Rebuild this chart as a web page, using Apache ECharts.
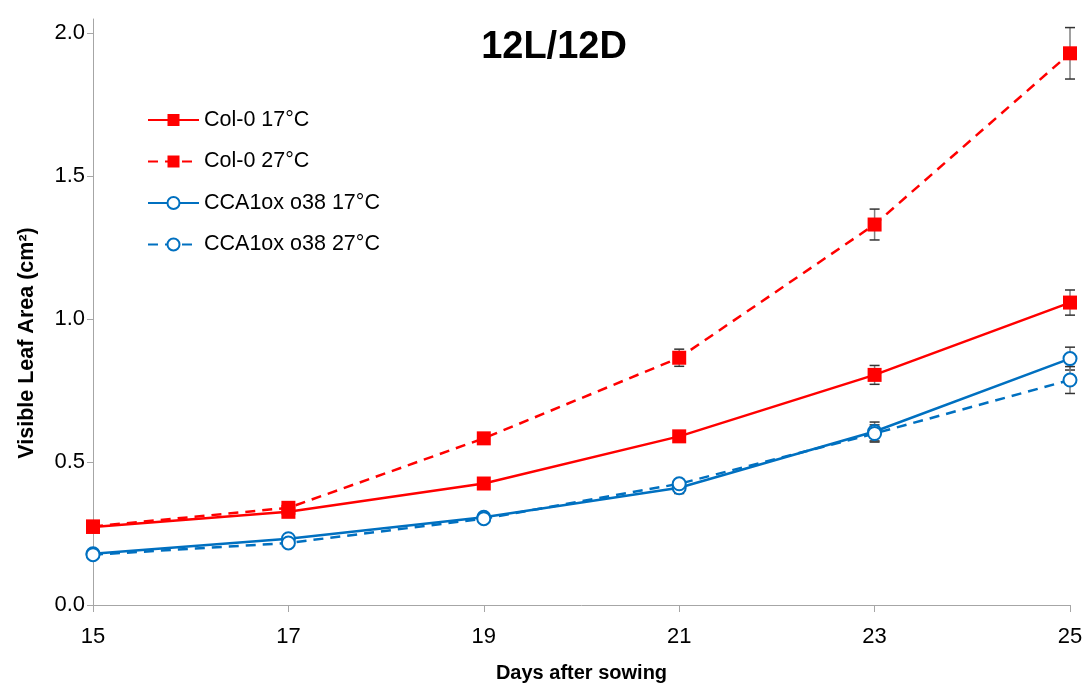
<!DOCTYPE html>
<html>
<head>
<meta charset="utf-8">
<script src="https://cdn.jsdelivr.net/npm/echarts@6/dist/echarts.min.js"></script>
<style>html,body{margin:0;padding:0;background:#fff}#c{width:1085px;height:684px}</style>
</head>
<body>
<div id="c"></div>
<script>
const days = [15, 17, 19, 21, 23, 25];
const yTicks = [0, 0.5, 1.0, 1.5, 2.0];
const seriesNames = ['Col-0 17°C', 'Col-0 27°C', 'CCA1ox o38 17°C', 'CCA1ox o38 27°C'];
const col17 = [0.273, 0.326, 0.425, 0.590, 0.805, 1.058];
const col27 = [0.275, 0.340, 0.583, 0.865, 1.331, 1.930];
const cca17 = [0.179, 0.232, 0.307, 0.410, 0.607, 0.862];
const cca27 = [0.176, 0.217, 0.302, 0.424, 0.600, 0.787];
const col17Err = [0.010, 0.010, 0.010, 0.015, 0.033, 0.044];
const col27Err = [0.010, 0.015, 0.015, 0.030, 0.054, 0.090];
const cca17Err = [0.010, 0.010, 0.010, 0.020, 0.033, 0.040];
const cca27Err = [0.010, 0.010, 0.010, 0.015, 0.030, 0.047];

const RED = '#ff0000', BLUE = '#0070c0';
const font = '"Liberation Sans", Arial, sans-serif';

function pts(vals) { return days.map((d, i) => [d, vals[i]]); }
function errData(vals, errs) { return days.map((d, i) => [d, vals[i] - errs[i], vals[i] + errs[i]]); }

function errSeries(vals, errs) {
  return {
    type: 'custom',
    silent: true,
    z: 1,
    data: errData(vals, errs),
    renderItem: function (params, api) {
      const x = api.value(0);
      const lo = api.coord([x, api.value(1)]);
      const hi = api.coord([x, api.value(2)]);
      const w = 5;
      return {
        type: 'group',
        children: [
          { type: 'line', shape: { x1: lo[0], y1: lo[1], x2: hi[0], y2: hi[1] }, style: { stroke: '#808080', lineWidth: 1.5 } },
          { type: 'line', shape: { x1: lo[0] - w, y1: lo[1], x2: lo[0] + w, y2: lo[1] }, style: { stroke: '#333', lineWidth: 1.5 } },
          { type: 'line', shape: { x1: hi[0] - w, y1: hi[1], x2: hi[0] + w, y2: hi[1] }, style: { stroke: '#333', lineWidth: 1.5 } }
        ]
      };
    }
  };
}

function lineSeries(name, vals, color, dashed, square) {
  return {
    name: name,
    type: 'line',
    z: 3,
    data: pts(vals),
    symbol: square ? 'rect' : 'circle',
    symbolSize: square ? 14 : 13,
    showAllSymbol: true,
    lineStyle: { color: color, width: 2.5, type: dashed ? [10, 7] : 'solid' },
    itemStyle: square ? { color: color, borderWidth: 0 } : { color: '#fff', borderColor: color, borderWidth: 2 },
    emphasis: { disabled: true },
    animation: false
  };
}

const chart = echarts.init(document.getElementById('c'));
chart.setOption({
  backgroundColor: '#fff',
  animation: false,
  title: {
    text: '12L/12D',
    left: 549, top: 24, textAlign: 'center',
    textStyle: { fontFamily: font, fontSize: 38, fontWeight: 'bold', color: '#000' }
  },
  legend: {
    orient: 'vertical',
    left: 142, top: 104,
    itemWidth: 51, itemHeight: 15, itemGap: 19.5,
    data: seriesNames,
    textStyle: { fontFamily: font, fontSize: 21.5, color: '#000' }
  },
  grid: { left: 93, right: 15, top: 19, bottom: 79, containLabel: false, outerBoundsMode: 'none' },
  xAxis: {
    type: 'value', min: 15, max: 25, interval: 2,
    name: 'Days after sowing', nameLocation: 'middle', nameGap: 58,
    nameTextStyle: { fontFamily: font, fontSize: 20, fontWeight: 'bold', color: '#000' },
    axisLine: { show: true, lineStyle: { color: '#a6a6a6', width: 1 } },
    axisTick: { show: true, length: 7, lineStyle: { color: '#a6a6a6' } },
    axisLabel: { fontFamily: font, fontSize: 22, color: '#000', margin: 21 },
    splitLine: { show: false }
  },
  yAxis: {
    type: 'value', min: 0, max: 2.05,
    name: 'Visible Leaf Area (cm²)', nameLocation: 'middle', nameGap: 55, nameRotate: 90,
    nameTextStyle: { fontFamily: font, fontSize: 21.5, fontWeight: 'bold', color: '#000', padding: [0, 62, 0, 0] },
    axisLine: { show: true, lineStyle: { color: '#a6a6a6', width: 1 } },
    axisTick: { show: true, length: 6, customValues: yTicks, lineStyle: { color: '#a6a6a6' } },
    axisLabel: { fontFamily: font, fontSize: 22, color: '#000', margin: 8, customValues: yTicks,
      formatter: v => v.toFixed(1) },
    splitLine: { show: false }
  },
  series: [
    errSeries(col17, col17Err),
    errSeries(col27, col27Err),
    errSeries(cca17, cca17Err),
    errSeries(cca27, cca27Err),
    lineSeries(seriesNames[0], col17, RED, false, true),
    lineSeries(seriesNames[1], col27, RED, true, true),
    lineSeries(seriesNames[2], cca17, BLUE, false, false),
    lineSeries(seriesNames[3], cca27, BLUE, true, false)
  ]
});
</script>
</body>
</html>
